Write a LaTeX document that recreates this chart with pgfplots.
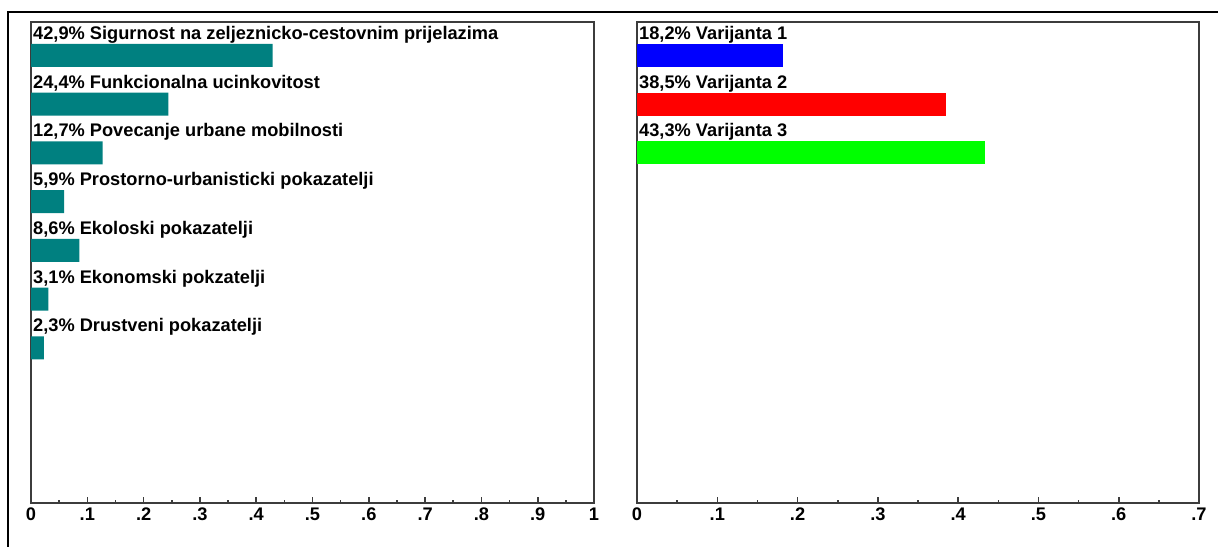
\documentclass[border=0pt]{standalone}
\usepackage{pgfplots}
\pgfplotsset{compat=1.18}
\usepackage{fontspec}
\setmainfont{Liberation Sans}
\definecolor{barteal}{HTML}{008080}
\definecolor{framegray}{HTML}{3C3C3C}
\definecolor{vblue}{HTML}{0000FF}
\definecolor{vred}{HTML}{FF0000}
\definecolor{vgreen}{HTML}{00FF00}
\newcommand\lbl{\fontsize{18.3}{20}\selectfont\bfseries}
\pgfplotsset{panel/.style={
  scale only axis, height=481bp, anchor=south west,
  xmin=0, y dir=reverse, ymin=0.313, ymax=10.18,
  ytick=\empty, xtick pos=bottom, tick align=inside,
  axis line style={framegray, line width=1.6bp},
  tick style={framegray, line width=1.6bp},
  major tick length=6bp, minor tick length=3bp,
  minor x tick num=1,
  xticklabel style={font=\lbl, inner sep=0pt, anchor=north, yshift=-5bp},
  clip=false,
}}
\begin{document}
\begin{tikzpicture}[x=1bp,y=1bp]
\path[use as bounding box] (0,0) rectangle (1218,547);
\fill[white] (0,0) rectangle (1218,547);
\draw[black, line width=2bp] (8,0) -- (8,535) -- (1218,535);

\begin{axis}[panel, at={(31bp,44bp)}, width=563bp, xmax=1,
  xtick={0,0.1,0.2,0.3,0.4,0.5,0.6,0.7,0.8,0.9,1},
  xticklabels={0,.1,.2,.3,.4,.5,.6,.7,.8,.9,1}]
\addplot[xbar, bar shift=0pt, bar width=23bp, fill=barteal, draw=none]
  coordinates {(0.429,1) (0.244,2) (0.127,3) (0.059,4) (0.086,5) (0.031,6) (0.023,7)};
\node[anchor=base west, inner sep=0pt, font=\lbl, xshift=2bp, yshift=16.2bp] at (axis cs:0,1) {42,9\% Sigurnost na zeljeznicko-cestovnim prijelazima};
\node[anchor=base west, inner sep=0pt, font=\lbl, xshift=2bp, yshift=16.2bp] at (axis cs:0,2) {24,4\% Funkcionalna ucinkovitost};
\node[anchor=base west, inner sep=0pt, font=\lbl, xshift=2bp, yshift=16.2bp] at (axis cs:0,3) {12,7\% Povecanje urbane mobilnosti};
\node[anchor=base west, inner sep=0pt, font=\lbl, xshift=2bp, yshift=16.2bp] at (axis cs:0,4) {5,9\% Prostorno-urbanisticki pokazatelji};
\node[anchor=base west, inner sep=0pt, font=\lbl, xshift=2bp, yshift=16.2bp] at (axis cs:0,5) {8,6\% Ekoloski pokazatelji};
\node[anchor=base west, inner sep=0pt, font=\lbl, xshift=2bp, yshift=16.2bp] at (axis cs:0,6) {3,1\% Ekonomski pokzatelji};
\node[anchor=base west, inner sep=0pt, font=\lbl, xshift=2bp, yshift=16.2bp] at (axis cs:0,7) {2,3\% Drustveni pokazatelji};
\end{axis}

\begin{axis}[panel, at={(637bp,44bp)}, width=562bp, xmax=0.7,
  xtick={0,0.1,0.2,0.3,0.4,0.5,0.6,0.7},
  xticklabels={0,.1,.2,.3,.4,.5,.6,.7}]
\addplot[xbar, bar shift=0pt, bar width=23bp, fill=vblue, draw=none] coordinates {(0.182,1)};
\addplot[xbar, bar shift=0pt, bar width=23bp, fill=vred, draw=none] coordinates {(0.385,2)};
\addplot[xbar, bar shift=0pt, bar width=23bp, fill=vgreen, draw=none] coordinates {(0.433,3)};
\node[anchor=base west, inner sep=0pt, font=\lbl, xshift=2bp, yshift=16.2bp] at (axis cs:0,1) {18,2\% Varijanta 1};
\node[anchor=base west, inner sep=0pt, font=\lbl, xshift=2bp, yshift=16.2bp] at (axis cs:0,2) {38,5\% Varijanta 2};
\node[anchor=base west, inner sep=0pt, font=\lbl, xshift=2bp, yshift=16.2bp] at (axis cs:0,3) {43,3\% Varijanta 3};
\end{axis}
\end{tikzpicture}
\end{document}
